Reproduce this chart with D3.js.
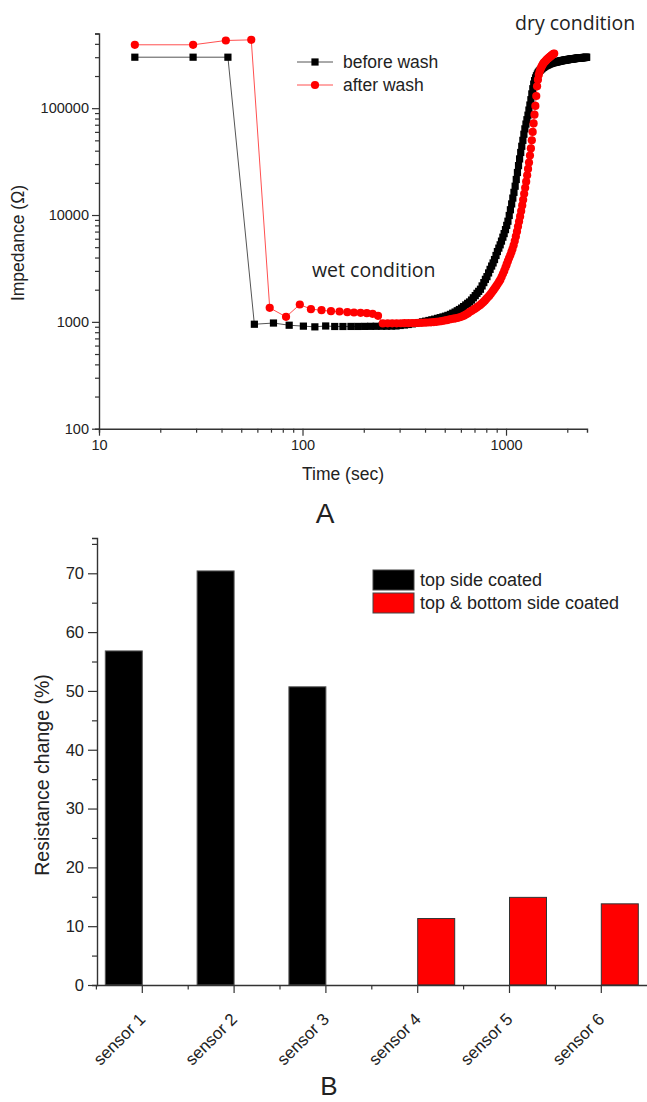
<!DOCTYPE html>
<html><head><meta charset="utf-8">
<script src="https://cdn.jsdelivr.net/npm/d3@7"></script>
<style>
body{margin:0;background:#fff}
svg{display:block}
text{fill:#222}
</style>
</head><body>
<svg id="c" width="647" height="1102" font-family="Liberation Sans, Arial, sans-serif"></svg>
<script>
// ---------- Panel A data ----------
const beforeTime=[15,29,43,58,72,86,101,115,130,144,
158,173,187,202,216,230,245,259,274,288,
302,317,331,346,360,374,389,403,418,432,
446,461,475,490,504,518,533,547,562,576,
590,605,619,634,648,662,677,691,706,720,
734,749,763,778,792,806,821,835,850,864,
878,893,907,922,936,950,965,979,994,1008,
1022,1037,1051,1066,1080,1094,1109,1123,1138,1152,
1166,1181,1195,1210,1224,1238,1253,1267,1282,1296,
1310,1325,1339,1354,1368,1382,1397,1411,1426,1440,
1454,1469,1483,1498,1512,1526,1541,1555,1570,1584,
1598,1613,1627,1642,1656,1670,1685,1699,1714,1728,
1742,1757,1771,1786,1800,1814,1829,1843,1858,1872,
1886,1901,1915,1930,1944,1958,1973,1987,2002,2016,
2030,2045,2059,2074,2088,2102,2117,2131,2146,2160,
2174,2189,2203,2218,2232,2246,2261,2275,2290,2304,
2318,2333,2347,2362,2376,2390,2405,2419,2434,2448,
2462,2477,2491];
const beforeImpedance=[300000,300000,300000,950,975,930,912,898,915,905,
905,906,906,907,908,909,910,911,913,916,
925,935,945,958,970,985,1000,1015,1030,1045,
1060,1078,1095,1112,1130,1150,1175,1205,1235,1270,
1305,1345,1390,1440,1490,1535,1600,1680,1760,1850,
1930,2020,2170,2330,2500,2650,2870,3100,3330,3560,
3830,4180,4550,4900,5260,5700,6200,6700,7300,8000,
8750,9900,11200,12700,14400,16300,18600,21500,25000,29000,
33500,38500,44000,50000,57000,64000,71000,78000,86000,96000,
107000,120000,136000,152000,168000,181000,192000,201000,209000,216000,
221000,226000,230000,234000,238000,241000,244000,247000,250000,252000,
254000,256000,258000,260000,262000,263000,265000,266000,267000,268000,
269000,270000,271000,272000,273000,274000,275000,276000,277000,278000,
279000,279000,280000,281000,282000,282000,283000,284000,284000,285000,
286000,286000,287000,288000,288000,289000,289000,290000,290000,291000,
291000,292000,292000,293000,293000,294000,294000,295000,295000,295000,
296000,296000,296000,297000,297000,297000,298000,298000,298000,299000,
299000,299000,300000];
const afterTime=[15,29,42,56,69,83,97,110,124,138,
152,166,179,193,207,221,235,248,262,276,
290,304,317,331,345,359,373,386,400,414,
428,442,455,469,483,497,511,524,538,552,
566,580,593,607,621,635,649,662,676,690,
704,718,731,745,759,773,787,800,814,828,
842,856,869,883,897,911,925,938,952,966,
980,994,1007,1021,1035,1049,1063,1076,1090,1104,
1118,1132,1145,1159,1173,1187,1201,1214,1228,1242,
1256,1270,1283,1297,1311,1325,1339,1352,1366,1380,
1394,1408,1421,1435,1449,1463,1477,1490,1504,1518,
1532,1546,1559,1573,1587,1601,1615,1628,1642,1656,
1670,1684,1697,1711,1725];
const afterImpedance=[392000,392000,430000,436000,1352,1114,1454,1314,1286,1259,
1250,1232,1224,1214,1206,1188,1140,966,968,968,
969,970,971,972,974,975,977,980,983,986,
990,995,1000,1008,1017,1027,1038,1050,1062,1070,
1078,1090,1105,1122,1142,1170,1200,1235,1265,1295,
1328,1362,1398,1432,1480,1530,1580,1640,1700,1760,
1830,1910,1990,2080,2170,2270,2380,2480,2640,2820,
3000,3220,3450,3700,3950,4200,4500,4800,5200,5700,
6300,7000,7800,8700,9700,10900,12300,13900,15800,18000,
20500,23500,27000,31000,36000,42000,50000,60000,72000,87000,
105000,130000,160000,185000,205000,220000,232000,242000,250000,258000,
265000,270000,275000,280000,285000,290000,294000,298000,302000,306000,
310000,314000,318000,322000,325000];
const seriesA=["before wash","after wash"];
const xMajorA=[10,100,1000];
const xMinorA=[20,30,40,50,60,70,80,90,200,300,400,500,600,700,800,900,2000];
const yMajorA=[100,1000,10000,100000];
const yMinorA=[200,300,400,500,600,700,800,900,2000,3000,4000,5000,6000,7000,8000,9000,
20000,30000,40000,50000,60000,70000,80000,90000,200000,300000,400000,500000];

// ---------- Panel B data ----------
const sensors=["sensor 1","sensor 2","sensor 3","sensor 4","sensor 5","sensor 6"];
const seriesB=["top side coated","top & bottom side coated"];
const topCoated=[56.8,70.4,50.7,null,null,null];
const bothCoated=[null,null,null,11.3,14.9,13.8];
const yMajorB=[0,10,20,30,40,50,60,70];
const yMinorB=[5,15,25,35,45,55,65,75];

const svg=d3.select("#c");
const axisColor="#333";
const SANS="Liberation Sans, Arial, sans-serif";
const HUMAN="Open Sans, Lato, sans-serif";

function styleAxis(g){
  g.selectAll("path").attr("stroke",axisColor).attr("stroke-width",1.4);
  g.selectAll("line").attr("stroke",axisColor).attr("stroke-width",1.2);
}
function styleTickText(g,size){
  g.selectAll("text").style("font-size",size+"px").style("font-family",SANS).style("fill","#222");
}

// ================= Panel A =================
const xA=d3.scaleLog().domain([10,2500]).range([99,587]);
const yA=d3.scaleLog().domain([100,500000]).range([428.7,33.5]);

const gyA=svg.append("g").attr("transform","translate(99,0)");
gyA.call(d3.axisLeft(yA).tickValues(yMinorA).tickSize(4).tickFormat(""));
const gyA2=svg.append("g").attr("transform","translate(99,0)");
gyA2.call(d3.axisLeft(yA).tickValues(yMajorA).tickSize(7).tickPadding(3).tickFormat(d3.format("d")));
gyA2.select("path").remove();
styleTickText(gyA2,14.5);
styleAxis(gyA);styleAxis(gyA2);

const gxA=svg.append("g").attr("transform","translate(0,428.7)");
gxA.call(d3.axisBottom(xA).tickValues(xMinorA).tickSize(4).tickFormat(""));
const gxA2=svg.append("g").attr("transform","translate(0,428.7)");
gxA2.call(d3.axisBottom(xA).tickValues(xMajorA).tickSize(7).tickPadding(4).tickFormat(d3.format("d")));
gxA2.select("path").remove();
styleTickText(gxA2,14.5);
styleAxis(gxA);styleAxis(gxA2);

const before=beforeTime.map((t,i)=>({t,v:beforeImpedance[i]}));
const after=afterTime.map((t,i)=>({t,v:afterImpedance[i]}));
const lineA=d3.line().x(d=>xA(d.t)).y(d=>yA(d.v));

svg.append("path").datum(before).attr("d",lineA).attr("fill","none").attr("stroke","#555").attr("stroke-width",1);
svg.append("g").selectAll("rect").data(before).join("rect")
  .attr("x",d=>xA(d.t)-3.6).attr("y",d=>yA(d.v)-3.6).attr("width",7.2).attr("height",7.2).attr("fill","#000");

svg.append("path").datum(after).attr("d",lineA).attr("fill","none").attr("stroke","#ff5050").attr("stroke-width",1);
svg.append("g").selectAll("circle").data(after).join("circle")
  .attr("cx",d=>xA(d.t)).attr("cy",d=>yA(d.v)).attr("r",4.1).attr("fill","#ff0000");

// legend A
const legA=svg.append("g");
seriesA.forEach((s,i)=>{
  const y=62+i*23;
  legA.append("line").attr("x1",297).attr("x2",333).attr("y1",y).attr("y2",y)
    .attr("stroke",i?"#ff5050":"#555").attr("stroke-width",1);
  if(i===0) legA.append("rect").attr("x",315-3.6).attr("y",y-3.6).attr("width",7.2).attr("height",7.2).attr("fill","#000");
  else legA.append("circle").attr("cx",315).attr("cy",y).attr("r",4.1).attr("fill","#ff0000");
  legA.append("text").attr("x",343).attr("y",y).attr("dy","0.35em").style("font-size","17.5px").text(s);
});

// labels A
svg.append("text").attr("transform","translate(24,243) rotate(-90)").attr("text-anchor","middle")
  .style("font-size","17.5px").text("Impedance (Ω)");
svg.append("text").attr("x",343).attr("y",480).attr("text-anchor","middle").style("font-size","17.5px").text("Time (sec)");
svg.append("text").attr("x",325).attr("y",523).attr("text-anchor","middle").style("font-size","28px").text("A");
svg.append("text").attr("x",312).attr("y",277).style("font-family",HUMAN).style("font-size","19.5px").text("wet condition");
svg.append("text").attr("x",515).attr("y",30).style("font-family",HUMAN).style("font-size","19.5px").text("dry condition");

// ================= Panel B =================
const x0=d3.scaleBand().domain(sensors).range([96.4,647.2]).padding(0);
const x1=d3.scaleBand().domain(seriesB).range([-37,37]).padding(0);
const yB=d3.scaleLinear().domain([0,76]).range([985,538]);
const colorB=d3.scaleOrdinal().domain(seriesB).range(["#000000","#ff0000"]);
const strokeB=d3.scaleOrdinal().domain(seriesB).range(["#555","#333"]);

const barData=[];
sensors.forEach((s,i)=>{
  if(topCoated[i]!=null) barData.push({s,series:seriesB[0],v:topCoated[i]});
  if(bothCoated[i]!=null) barData.push({s,series:seriesB[1],v:bothCoated[i]});
});
svg.append("g").selectAll("rect").data(barData).join("rect")
  .attr("x",d=>x0(d.s)+x0.bandwidth()/2+x1(d.series))
  .attr("y",d=>yB(d.v)).attr("width",x1.bandwidth()).attr("height",d=>yB(0)-yB(d.v))
  .attr("fill",d=>colorB(d.series)).attr("stroke",d=>strokeB(d.series)).attr("stroke-width",1);

const gyB=svg.append("g").attr("transform","translate(97,0)");
gyB.call(d3.axisLeft(yB).tickValues(yMinorB).tickSize(5).tickFormat(""));
const gyB2=svg.append("g").attr("transform","translate(97,0)");
gyB2.call(d3.axisLeft(yB).tickValues(yMajorB).tickSize(9).tickPadding(4).tickFormat(d3.format("d")));
gyB2.select("path").remove();
styleTickText(gyB2,16.5);
styleAxis(gyB);styleAxis(gyB2);

const gxB=svg.append("g").attr("transform","translate(0,985)");
gxB.call(d3.axisBottom(x0).tickSize(8).tickSizeOuter(0));
styleTickText(gxB,17);
gxB.selectAll("text")
  .attr("x",0).attr("y",0).attr("dy","0.35em").attr("text-anchor","end")
  .attr("transform","translate(0,31) rotate(-45)");
styleAxis(gxB);
svg.append("g").attr("transform","translate(0,985)").selectAll("line").data(sensors).join("line")
  .attr("x1",d=>x0(d)).attr("x2",d=>x0(d)).attr("y1",0).attr("y2",4.5)
  .attr("stroke",axisColor).attr("stroke-width",1.2);

// legend B
const legB=svg.append("g");
seriesB.forEach((s,i)=>{
  const y=570+i*23;
  legB.append("rect").attr("x",373).attr("y",y).attr("width",41).attr("height",20)
    .attr("fill",colorB(s)).attr("stroke","#444").attr("stroke-width",1);
  legB.append("text").attr("x",420).attr("y",y+10).attr("dy","0.35em").style("font-size","18px").text(s);
});

svg.append("text").attr("transform","translate(49,775) rotate(-90)").attr("text-anchor","middle")
  .style("font-size","19.5px").text("Resistance change (%)");
svg.append("text").attr("x",329).attr("y",1095).attr("text-anchor","middle").style("font-size","26px").text("B");
</script>
</body></html>
